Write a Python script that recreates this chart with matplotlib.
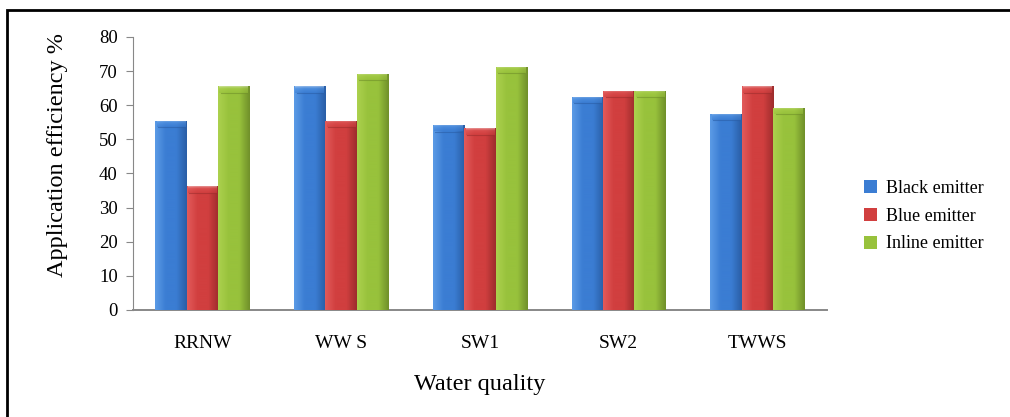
import matplotlib.pyplot as plt
import numpy as np
from matplotlib.colors import LinearSegmentedColormap
from matplotlib.patches import Rectangle

plt.rcParams['font.family'] = ['Liberation Serif', 'DejaVu Serif']

categories = ['RRNW', 'WW S', 'SW1', 'SW2', 'TWWS']
series = ['Black emitter', 'Blue emitter', 'Inline emitter']
black_emitter = [55.5, 65.5, 54.2, 62.5, 57.5]
blue_emitter = [36.2, 55.5, 53.2, 64.3, 65.5]
inline_emitter = [65.5, 69.3, 71.3, 64.2, 59.2]
yticks = [0, 10, 20, 30, 40, 50, 60, 70, 80]

values = [black_emitter, blue_emitter, inline_emitter]
# (light, mid, dark) shades per series for the rounded look
shades = [('#5b9be6', '#3b7dd3', '#2a5ea6'),
          ('#e25a5a', '#d13f3f', '#9e2d2d'),
          ('#acd14e', '#98c23c', '#70902a')]

fig = plt.figure(figsize=(10.1, 4.17), dpi=100)
ax = fig.add_axes([0.1317, 0.2566, 0.687, 0.6547])

x = np.arange(len(categories))
width = 0.226

grad = np.linspace(0, 1, 64).reshape(1, -1)
for i, (vals, name, (light, mid, dark)) in enumerate(zip(values, series, shades)):
    pos = x + (i - 1) * width
    bars = ax.bar(pos, vals, width, color=mid, label=name, zorder=2)
    cmap = LinearSegmentedColormap.from_list(name, [light, mid, mid, dark])
    topcmap = LinearSegmentedColormap.from_list(name + '_top', ['#ffffff', light, mid])
    for b in bars:
        x0, y0 = b.get_x(), b.get_y()
        w, h = b.get_width(), b.get_height()
        im = ax.imshow(grad, cmap=cmap, aspect='auto', extent=(x0, x0 + w, y0, y0 + h),
                       zorder=3, interpolation='bicubic')
        im.set_clip_path(b)
        # lighter cap at the top of each bar
        cap = ax.imshow(np.linspace(0, 1, 32).reshape(-1, 1) ** 0.6, cmap=topcmap, aspect='auto',
                        extent=(x0 + w * 0.04, x0 + w * 0.96, y0 + h - 1.8, y0 + h),
                        zorder=4, alpha=0.55, interpolation='bicubic')
        cap.set_clip_path(b)
        ax.plot([x0 + w * 0.08, x0 + w * 0.92], [y0 + h - 1.9, y0 + h - 1.9],
                color=dark, lw=0.8, alpha=0.6, zorder=5)

ax.set_xlim(-0.5, len(categories) - 0.5)
ax.set_ylim(0, 80)
ax.set_yticks(yticks)
ax.set_xticks(x)
ax.set_xticklabels(categories, fontsize=14)
ax.tick_params(axis='x', length=0, pad=18)
ax.tick_params(axis='y', labelsize=13.5, length=5, color='#888888', direction='out', pad=6)
for s in ['top', 'right']:
    ax.spines[s].set_visible(False)
ax.spines['left'].set_color('#888888')
ax.spines['bottom'].set_color('#888888')
ax.spines['bottom'].set_linewidth(1.4)

ax.set_ylabel('Application efficiency %', fontsize=17.5)
ax.yaxis.set_label_coords(-0.094, 0.568)
ax.set_xlabel('Water quality', fontsize=17.5, labelpad=16)

ax.legend(loc='center left', bbox_to_anchor=(1.03, 0.344), frameon=False, fontsize=13,
          handlelength=0.75, handleheight=0.75, handletextpad=0.45, labelspacing=0.6)

# outer frame of the chart area
fig.patches.append(Rectangle((7 / 1010, -0.1), 1.1, 1.1 - 10 / 417, transform=fig.transFigure,
                             fill=False, edgecolor='black', linewidth=2))

fig.savefig('out.png', dpi=100)
